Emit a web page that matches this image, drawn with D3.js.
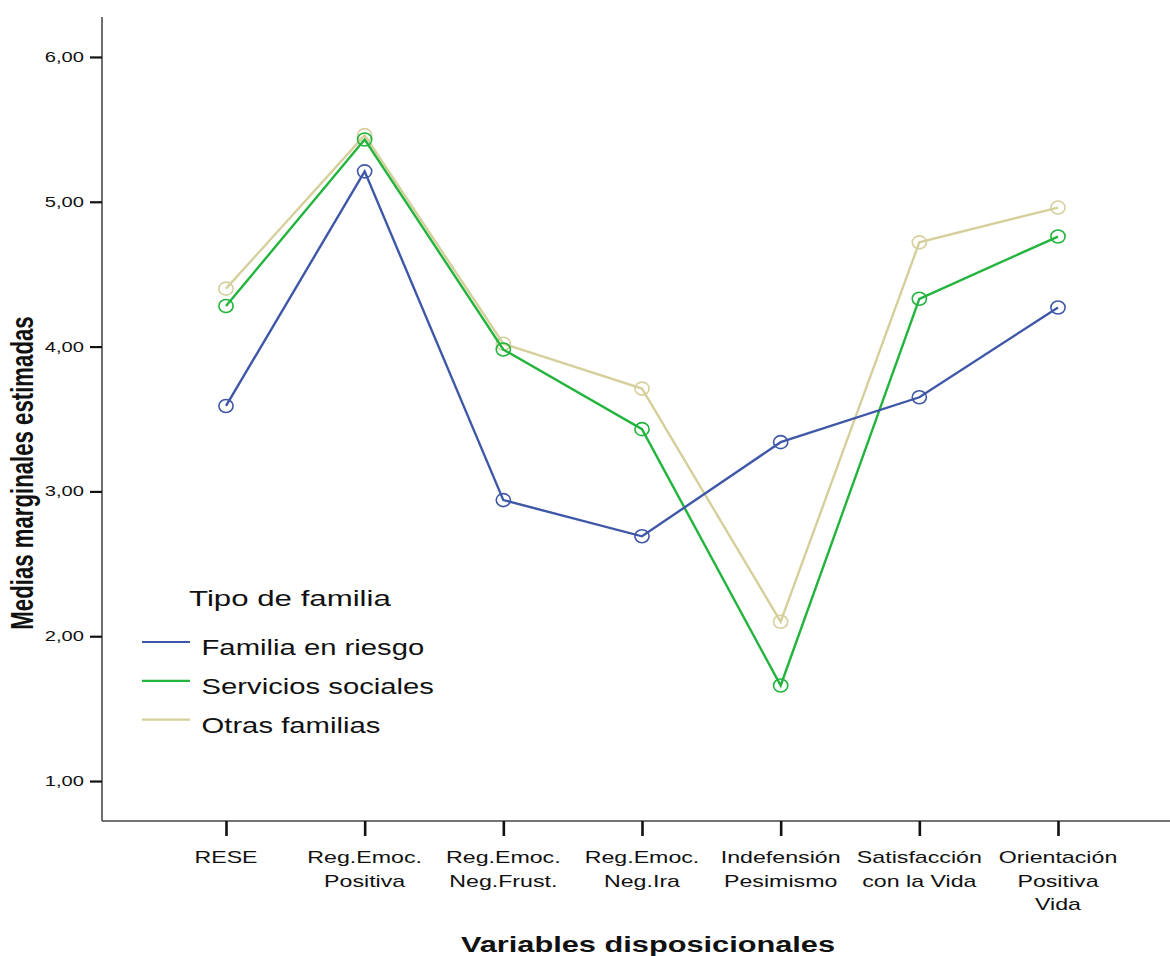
<!DOCTYPE html>
<html>
<head>
<meta charset="utf-8">
<script src="https://cdn.jsdelivr.net/npm/d3@7"></script>
<style>
  html, body { margin: 0; padding: 0; background: #fff; }
  svg { display: block; font-family: "Liberation Sans", Arial, sans-serif; }
</style>
</head>
<body>
<svg id="chart" width="1170" height="956"></svg>
<script>
// Variables disposicionales (x categories, multi-line labels)
const categories = ["RESE", "Reg.Emoc. Positiva", "Reg.Emoc. Neg.Frust.", "Reg.Emoc. Neg.Ira",
                    "Indefensión Pesimismo", "Satisfacción con la Vida", "Orientación Positiva Vida"];
const categoryLabels = [
  ["RESE"],
  ["Reg.Emoc.", "Positiva"],
  ["Reg.Emoc.", "Neg.Frust."],
  ["Reg.Emoc.", "Neg.Ira"],
  ["Indefensión", "Pesimismo"],
  ["Satisfacción", "con la Vida"],
  ["Orientación", "Positiva", "Vida"]
];

// Estimated marginal means per family type
const familiaRiesgo     = [3.59, 5.21, 2.94, 2.69, 3.34, 3.65, 4.27];
const serviciosSociales = [4.28, 5.43, 3.98, 3.43, 1.66, 4.33, 4.76];
const otrasFamilias     = [4.40, 5.46, 4.02, 3.71, 2.10, 4.72, 4.96];

const seriesNames  = ["Familia en riesgo", "Servicios sociales", "Otras familias"];
const seriesColors = ["#3f57a8", "#22b43c", "#d5cf9c"];
const yTicks = [1, 2, 3, 4, 5, 6];

const series = [familiaRiesgo, serviciosSociales, otrasFamilias].map((vals, i) => ({
  name: seriesNames[i], color: seriesColors[i],
  points: vals.map((v, j) => ({ cat: categories[j], v }))
}));

const svg = d3.select("#chart");
const plotLeft = 102, plotRight = 1170, plotTop = 17, plotBottom = 821;
// the whole figure is drawn with a wide (horizontally stretched) text style
const stretch = 1.4;

const x = d3.scalePoint().domain(categories).range([226, 1058]);
const y = d3.scaleLinear().domain([0.724, 6.276]).range([plotBottom, plotTop]);

function wideText(parent, px, py, sx, str, opts = {}) {
  const t = parent.append("text")
    .attr("transform", `translate(${px},${py}) scale(${sx},1)${opts.rotate ? " rotate(" + opts.rotate + ")" : ""}`)
    .attr("text-anchor", opts.anchor || "start")
    .attr("font-size", opts.size || 16)
    .attr("font-weight", opts.weight || "normal")
    .attr("fill", "#111")
    .text(str);
  return t;
}

// Axes frame
svg.append("line").attr("x1", plotLeft).attr("x2", plotLeft).attr("y1", plotTop).attr("y2", plotBottom)
  .attr("stroke", "#222").attr("stroke-width", 1.3);
svg.append("line").attr("x1", plotLeft).attr("x2", plotRight).attr("y1", plotBottom).attr("y2", plotBottom)
  .attr("stroke", "#444").attr("stroke-width", 1.3);

// Y axis ticks
const yAxis = svg.append("g").attr("transform", `translate(${plotLeft},0)`)
  .call(d3.axisLeft(y).tickValues(yTicks).tickSize(12).tickFormat(""));
yAxis.select(".domain").remove();
yAxis.selectAll(".tick line").attr("stroke", "#111").attr("stroke-width", 2.2);
const yLabels = svg.append("g");
yTicks.forEach(v => {
  wideText(yLabels, 84, y(v) + 5, 1.36, d3.format(".2f")(v).replace(".", ","),
    { anchor: "end", size: 14.8 });
});

// X axis ticks
const xAxis = svg.append("g").attr("transform", `translate(0,${plotBottom})`)
  .call(d3.axisBottom(x).tickSize(15).tickFormat(""));
xAxis.select(".domain").remove();
xAxis.selectAll(".tick line").attr("stroke", "#111").attr("stroke-width", 2.6);
const xLabels = svg.append("g");
categories.forEach((c, i) => {
  categoryLabels[i].forEach((ln, k) => {
    wideText(xLabels, x(c), 863 + k * 23.5, 1.45, ln, { anchor: "middle", size: 16 });
  });
});

// Lines and markers
const line = d3.line().x(d => x(d.cat)).y(d => y(d.v));
const gSeries = svg.append("g");
// draw back-to-front so the first series ends up on top
[...series].reverse().forEach(s => {
  gSeries.append("path").datum(s.points).attr("d", line)
    .attr("fill", "none").attr("stroke", s.color).attr("stroke-width", 2.4)
    .attr("stroke-linejoin", "miter");
  gSeries.selectAll(null).data(s.points).enter().append("ellipse")
    .attr("cx", d => x(d.cat)).attr("cy", d => y(d.v)).attr("rx", 7.1).attr("ry", 6.5)
    .attr("fill", "none").attr("stroke", s.color).attr("stroke-width", 1.6);
});

// Axis titles
wideText(svg, 648, 952, 1.43, "Variables disposicionales", { anchor: "middle", size: 21.5, weight: "bold" });
wideText(svg, 33, 473, stretch, "Medias marginales estimadas",
  { anchor: "middle", size: 22.2, weight: "bold", rotate: -90 });

// Legend
const legend = svg.append("g");
wideText(legend, 189, 606, 1.42, "Tipo de familia", { size: 22 });
series.forEach((s, i) => {
  const yy = 642 + i * 38.8;
  legend.append("line").attr("x1", 142).attr("x2", 190).attr("y1", yy).attr("y2", yy)
    .attr("stroke", s.color).attr("stroke-width", 2.2);
  wideText(legend, 201.5, yy + 13, 1.33, s.name, { size: 22 });
});
</script>
</body>
</html>
